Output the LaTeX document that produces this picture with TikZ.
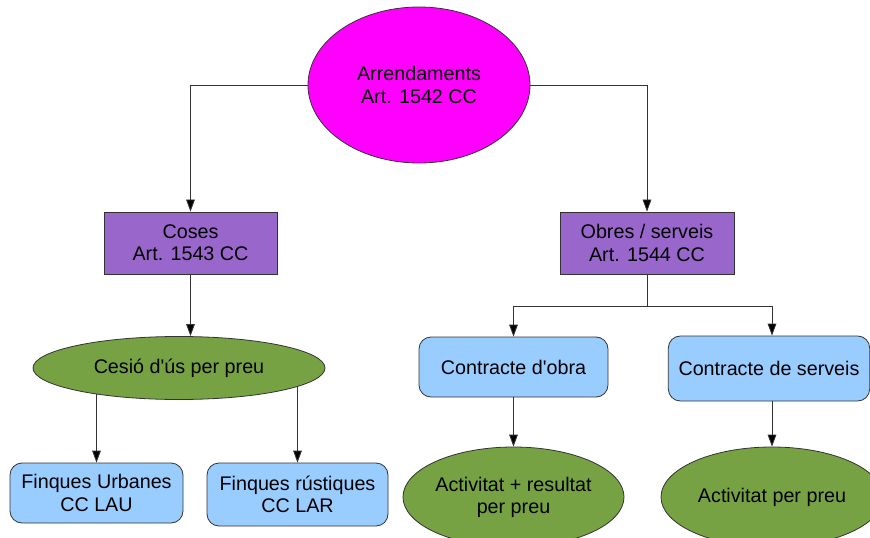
\documentclass[tikz,border=0pt]{standalone}
\usepackage{fontspec}
\setmainfont{Liberation Sans}
\usetikzlibrary{shapes.geometric,arrows.meta,backgrounds}
\definecolor{magbg}{HTML}{FF00FF}
\definecolor{purpbg}{HTML}{9966CC}
\definecolor{greenbg}{HTML}{77A244}
\definecolor{bluebg}{HTML}{99CCFF}
\definecolor{edgec}{HTML}{333333}
\tikzset{
  base/.style={draw=edgec, line width=0.6pt, inner sep=0pt, align=center,
    font=\fontsize{14.8}{16.6}\selectfont, text=black},
  oval/.style={base, ellipse},
  sqbox/.style={base, rectangle, fill=purpbg},
  rbox/.style={base, rectangle, rounded corners=9pt, fill=bluebg},
  arr/.style={draw=edgec, line width=0.6pt, -{Triangle[length=9pt,width=6.5pt,fill=black]}},
  plain/.style={draw=edgec, line width=0.6pt},
}
\begin{document}
\begin{tikzpicture}[x=0.75pt,y=-0.75pt]
\useasboundingbox (0,0) rectangle (870,538);
\node[oval, fill=magbg, minimum width=166.5pt, minimum height=117pt] (top) at (419,85) {Arrendaments\\ Art. 1542 CC};
\node[sqbox, minimum width=129.75pt, minimum height=46.5pt] (coses) at (190.5,243) {Coses\\Art. 1543 CC};
\node[sqbox, minimum width=130.5pt, minimum height=46.5pt] (obres) at (647,243) {Obres / serveis\\Art. 1544 CC};
\node[oval, fill=greenbg, minimum width=219pt, minimum height=47.25pt] (cesio) at (179,368) {Cesió d\textquotesingle ús per preu};
\node[rbox, minimum width=129.75pt, minimum height=45pt] (finu) at (96.5,493) {Finques Urbanes\\CC LAU};
\node[rbox, minimum width=135.75pt, minimum height=47.25pt] (finr) at (297.5,494.5) {Finques rústiques\\CC LAR};
\node[rbox, minimum width=141.75pt, minimum height=45pt] (obra) at (513.5,367) {Contracte d\textquotesingle obra};
\node[rbox, minimum width=151pt, minimum height=48.75pt] (serv) at (769,368.5) {Contracte de serveis};
\node[oval, fill=greenbg, minimum width=165pt, minimum height=75pt] (actres) at (513.5,497) {Activitat + resultat\\per preu};
\node[oval, fill=greenbg, minimum width=166.5pt, minimum height=75pt] (actpreu) at (772,497) {Activitat per preu};
\coordinate (split) at (647,306);
\draw[arr] (top.west) -| (coses.north);
\draw[arr] (top.east) -| (obres.north);
\draw[arr] (coses.south) -- (coses.south |- cesio.north);
\begin{scope}[on background layer]
\draw[arr] (cesio.center -| finu.north) -- (finu.north);
\draw[arr] (cesio.center -| finr.north) -- (finr.north);
\end{scope}
\draw[plain] (obres.south) -- (split);
\draw[arr] (split) -| (obra.north);
\draw[arr] (split) -| (serv.north -| actpreu.north);
\draw[arr] (obra.south) -- (actres.north);
\draw[arr] (serv.south -| actpreu.north) -- (actpreu.north);
\end{tikzpicture}
\end{document}
